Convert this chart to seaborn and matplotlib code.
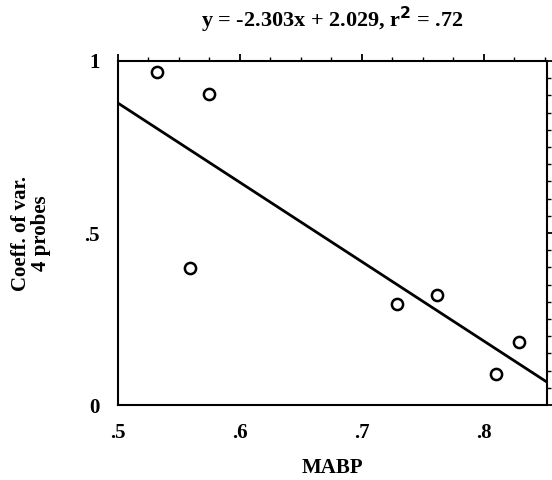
import numpy as np
import pandas as pd
import seaborn as sns
import matplotlib.pyplot as plt
from matplotlib.ticker import MultipleLocator, FixedLocator

# Data
mabp = [0.532, 0.575, 0.559, 0.729, 0.762, 0.810, 0.829]
coeff_var = [0.967, 0.903, 0.399, 0.293, 0.320, 0.091, 0.184]

# Regression line given in the title
slope = -2.303
intercept = 2.029
fit_x = np.array([0.5, 0.852])

x_ticks = [0.5, 0.6, 0.7, 0.8]
x_tick_labels = [".5", ".6", ".7", ".8"]
y_ticks = [0, 0.5, 1]
y_tick_labels = ["0", ".5", "1"]

df = pd.DataFrame({"MABP": mabp, "CV": coeff_var})
fit_df = pd.DataFrame({"x": fit_x, "y": slope * fit_x + intercept})

sns.set_style("white")
plt.rcParams["font.family"] = ["Liberation Serif", "DejaVu Serif"]
plt.rcParams["font.weight"] = "bold"
plt.rcParams["text.color"] = "black"
plt.rcParams["axes.labelcolor"] = "black"
plt.rcParams["xtick.color"] = "black"
plt.rcParams["ytick.color"] = "black"

fig = plt.figure(figsize=(5.52, 4.8), dpi=100)
ax = fig.add_axes([0.2138, 0.156, 0.7772, 0.717])

sns.lineplot(data=fit_df, x="x", y="y", ax=ax, color="black", linewidth=2)
sns.scatterplot(data=df, x="MABP", y="CV", ax=ax, marker="o", s=65,
                facecolor="white", edgecolor="black", linewidth=1.8, zorder=3)

ax.set_xlim(0.5, 0.852)
ax.set_ylim(0, 1)

ax.xaxis.set_major_locator(FixedLocator(x_ticks))
ax.set_xticklabels(x_tick_labels)
ax.xaxis.set_minor_locator(MultipleLocator(0.025))
ax.yaxis.set_major_locator(FixedLocator(y_ticks))
ax.set_yticklabels(y_tick_labels)
ax.yaxis.set_minor_locator(MultipleLocator(0.05))

ax.tick_params(which="both", direction="out", top=True, right=True,
               labeltop=False, labelright=False)
ax.tick_params(which="major", length=5, width=1.3, labelsize=15, pad=8)
ax.tick_params(which="minor", length=3, width=1.0)

for spine in ax.spines.values():
    spine.set_visible(True)
    spine.set_color("black")
    spine.set_linewidth(1.5)

ax.set_xlabel("MABP", fontsize=15, fontweight="bold", labelpad=11)
ax.set_ylabel("Coeff. of var.\n4 probes", fontsize=15, fontweight="bold",
              labelpad=24, linespacing=1.0)
ax.set_title("y = -2.303x + 2.029, r$^\\mathbf{2}$ = .72", fontsize=16,
             fontweight="bold", pad=24)

fig.savefig("out.png", dpi=100)
